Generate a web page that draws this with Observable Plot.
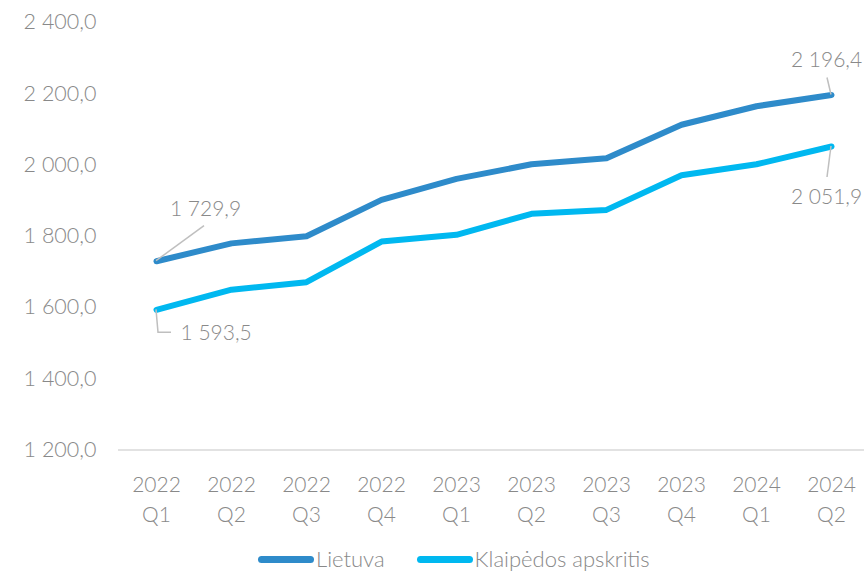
<!DOCTYPE html>
<html>
<head>
<meta charset="utf-8">
<script src="https://cdn.jsdelivr.net/npm/d3@7"></script>
<script src="https://cdn.jsdelivr.net/npm/@observablehq/plot@0.6"></script>
<style>
  body { margin: 0; background: #fff; }
  #chart { position: relative; width: 864px; height: 573px; overflow: hidden; font-family: Lato, "Open Sans", sans-serif; font-weight: 300; }
  #chart svg { display: block; }
  .legend { position: absolute; left: 258px; top: 546px; display: flex; align-items: center; gap: 32px; color: #898989; font-size: 22px; line-height: 26px; }
  .legend .item { display: flex; align-items: center; }
  .legend .sw { width: 56px; height: 7px; border-radius: 4px; margin-right: 2px; }
</style>
</head>
<body>
<div id="chart"></div>
<script>
const periods = ["2022 Q1","2022 Q2","2022 Q3","2022 Q4","2023 Q1","2023 Q2","2023 Q3","2023 Q4","2024 Q1","2024 Q2"];
const seriesNames = ["Lietuva", "Klaipėdos apskritis"];
const seriesColors = ["#2e8bca", "#00b8f0"];
const lietuva = [1729.9, 1780, 1800, 1902, 1961, 2002, 2019, 2113, 2165, 2196.4];
const klaipeda = [1593.5, 1650, 1671, 1785, 1804, 1863, 1874, 1971, 2002, 2051.9];
const yTicks = [1200, 1400, 1600, 1800, 2000, 2200, 2400];

const data = [
  ...periods.map((p, i) => ({period: p, series: seriesNames[0], value: lietuva[i]})),
  ...periods.map((p, i) => ({period: p, series: seriesNames[1], value: klaipeda[i]}))
];

const locale = d3.formatLocale({decimal: ",", thousands: " ", grouping: [3]});
const fmt = locale.format(",.1f");
const gray = "#898989";

// data labels: which points are labelled, and their pixel offsets (style)
const labels = [
  {d: data.find(d => d.series === seriesNames[0] && d.period === periods[0]), dx: 49, dy: -52, anchor: "middle",
   leader: [[0, 0], [48, -35]]},
  {d: data.find(d => d.series === seriesNames[1] && d.period === periods[0]), dx: 24, dy: 23, anchor: "start",
   leader: [[0, 0], [2, 23], [15, 23]]},
  {d: data.find(d => d.series === seriesNames[0] && d.period === periods[periods.length - 1]), dx: -5, dy: -35, anchor: "middle",
   leader: [[0, 0], [-4, -17]]},
  {d: data.find(d => d.series === seriesNames[1] && d.period === periods[periods.length - 1]), dx: -5, dy: 51, anchor: "middle",
   leader: [[0, 0], [-4, 31]]}
];

function leaders(index, scales) {
  const g = d3.create("svg:g").attr("fill", "none").attr("stroke", "#bfbfbf").attr("stroke-width", 1.5);
  for (const l of labels) {
    const x0 = scales.x(l.d.period), y0 = scales.y(l.d.value);
    g.append("path").attr("d", "M" + l.leader.map(([dx, dy]) => `${x0 + dx},${y0 + dy}`).join("L"));
  }
  return g.node();
}

const chart = Plot.plot({
  width: 864,
  height: 540,
  marginLeft: 118,
  marginRight: -4,
  marginTop: 22,
  marginBottom: 90.5,
  style: {fontFamily: "Lato, 'Open Sans', sans-serif", fontWeight: 300, fontSize: "21px", color: gray, background: "#fff"},
  x: {type: "point", domain: periods, padding: 0.5},
  y: {domain: [1200, 2400]},
  color: {domain: seriesNames, range: seriesColors},
  marks: [
    Plot.ruleY([1200], {stroke: "#d9d9d9", strokeWidth: 1.5}),
    Plot.axisY({ticks: yTicks, tickSize: 0, tickPadding: 22, tickFormat: fmt, label: null, fill: gray, fontSize: 21.5}),
    Plot.axisX({tickSize: 0, tickPadding: 20, tickFormat: d => d.replace(" ", "\n"), lineHeight: 1.45, label: null, fill: gray, fontSize: 21}),
    Plot.line(data, {x: "period", y: "value", z: "series", stroke: "series", strokeWidth: 6, strokeLinejoin: "round", strokeLinecap: "round"}),
    leaders,
    ...labels.map(l => Plot.text([l.d], {x: "period", y: "value", text: d => fmt(d.value), dx: l.dx, dy: l.dy, textAnchor: l.anchor, fill: gray, fontSize: 21}))
  ]
});

const root = document.getElementById("chart");
root.appendChild(chart);
const legend = document.createElement("div");
legend.className = "legend";
seriesNames.forEach((name, i) => {
  const item = document.createElement("div");
  item.className = "item";
  const sw = document.createElement("span");
  sw.className = "sw";
  sw.style.background = seriesColors[i];
  const t = document.createElement("span");
  t.textContent = name;
  item.appendChild(sw); item.appendChild(t);
  legend.appendChild(item);
});
root.appendChild(legend);
</script>
</body>
</html>
